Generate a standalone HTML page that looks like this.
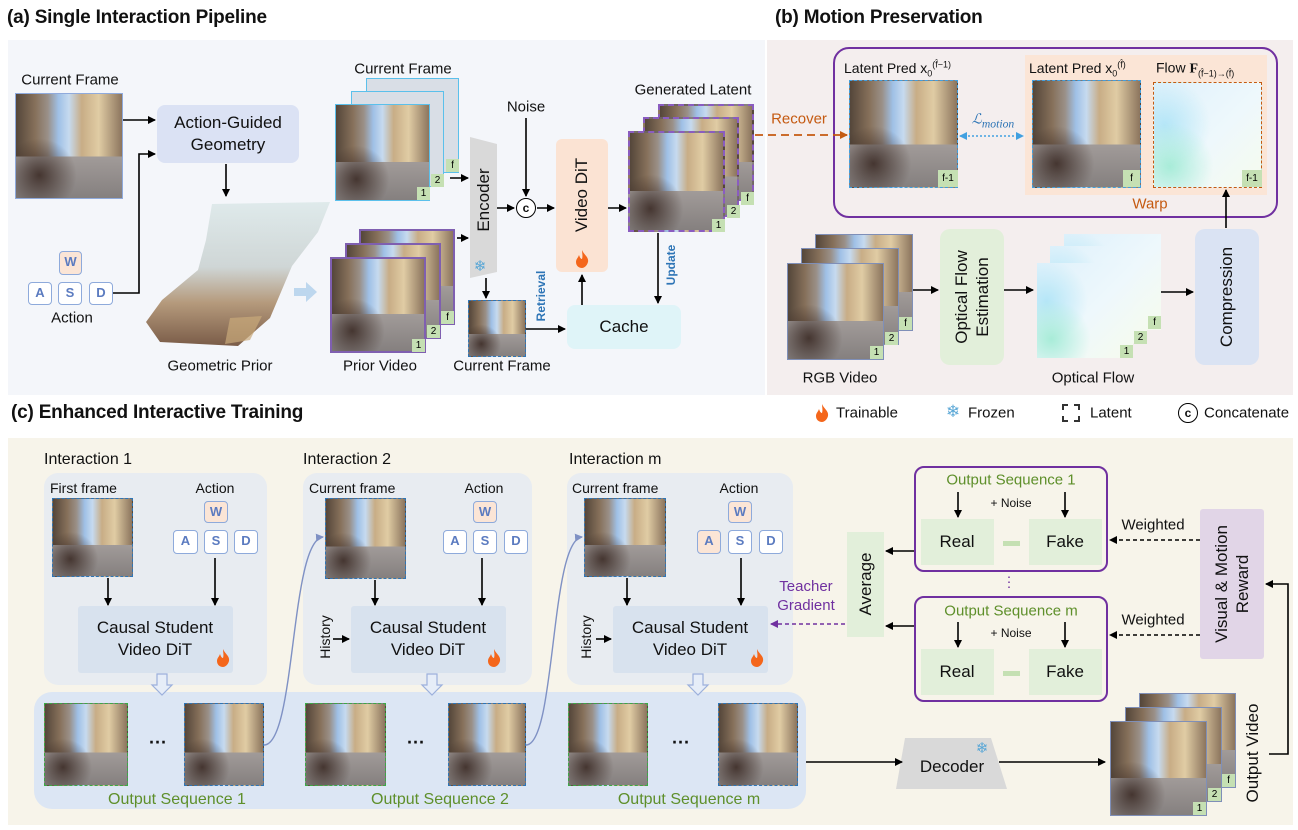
<!DOCTYPE html>
<html><head><meta charset="utf-8"><style>
body{margin:0;width:1298px;height:830px;position:relative;background:#fff;font-family:"Liberation Sans",sans-serif;overflow:hidden;color:#111}
.a{position:absolute;box-sizing:border-box}
.c{position:absolute;transform:translate(-50%,-50%);white-space:nowrap;text-align:center}
.l{position:absolute;transform:translateY(-50%);white-space:nowrap}
.r{position:absolute;transform:translate(-50%,-50%) rotate(-90deg);white-space:nowrap;text-align:center}
.ph{position:absolute;box-sizing:border-box;background:radial-gradient(ellipse at 22% 78%,rgba(55,38,32,.85) 0,rgba(55,38,32,0) 32%),linear-gradient(to bottom,rgba(0,0,0,0) 60%,#a19b99 60%,#85807f 100%),linear-gradient(to right,#54463a 0%,#86705a 18%,#9a9088 30%,#9fc0e6 40%,#c6daef 50%,#c8ad86 62%,#e0cca4 78%,#8c755e 100%)}
.fl{position:absolute;box-sizing:border-box;background:radial-gradient(circle at 15% 80%,#a8ecd8 0,rgba(255,255,255,0) 35%),radial-gradient(circle at 10% 40%,#b5e6f7 0,rgba(255,255,255,0) 40%),linear-gradient(135deg,#dff1fb,#eef8fc 55%,#f6fbee)}
.tag{position:absolute;width:13px;height:13px;background:#c5e0b3;font-size:10px;text-align:center;line-height:13px;color:#000}
.key{position:absolute;box-sizing:border-box;border:1.5px solid #8eaadb;border-radius:4px;background:#fff;color:#5b7bc0;font-weight:bold;font-size:13px;text-align:center;line-height:20px}
.t15{font-size:15px}.t17{font-size:17px}
.g{color:#5e8f2a}
.csd{background:#d8e2ee;border-radius:3px}
</style></head><body>
<div class="a" style="left:8px;top:40px;width:757px;height:355px;background:#f4f6fa"></div>
<div class="a" style="left:767px;top:40px;width:526px;height:355px;background:#f4eeee"></div>
<div class="a" style="left:8px;top:438px;width:1285px;height:387px;background:#f7f4ea"></div>

<div class="l" style="left:7px;top:18px;font-size:19px;font-weight:bold;letter-spacing:-0.2px">(a) Single Interaction Pipeline</div>
<div class="l" style="left:775px;top:18px;font-size:19px;font-weight:bold;letter-spacing:-0.2px">(b) Motion Preservation</div>
<div class="l" style="left:11px;top:413px;font-size:19px;font-weight:bold;letter-spacing:-0.2px">(c) Enhanced Interactive Training</div>

<svg class="a" style="left:815px;top:404px" width="14" height="18"><path d="M7 0C9 5 14 7 13 12C12 16 9 18 7 18C4 18 1 16 1 12C1 9 3 8 4 5C5 8 6 9 7 9C8 6 7 3 7 0Z" fill="#f4661b"/></svg>
<div class="l t15" style="left:836px;top:413px">Trainable</div>
<div class="c" style="left:953px;top:412px;font-size:17px;color:#5aa7d6">❄</div>
<div class="l t15" style="left:968px;top:413px">Frozen</div>
<div class="a" style="left:1062px;top:404px;width:18px;height:18px;border:2px dashed #333"></div>
<div class="l t15" style="left:1090px;top:413px">Latent</div>
<div class="a" style="left:1178px;top:403px;width:20px;height:20px;border:1.5px solid #000;border-radius:50%;font-size:12px;text-align:center;line-height:18px;font-weight:bold">c</div>
<div class="l t15" style="left:1204px;top:413px">Concatenate</div>

<!-- (a) -->
<div class="c t15" style="left:70px;top:80px">Current Frame</div>
<div class="ph" style="left:15px;top:93px;width:108px;height:106px;border:1.5px solid #8faadc"></div>
<div class="a" style="left:157px;top:105px;width:142px;height:58px;background:#dbe2f4;border-radius:8px"></div>
<div class="c t17" style="left:228px;top:134px;line-height:22px">Action-Guided<br>Geometry</div>
<div class="key" style="left:59px;top:251px;width:23px;height:24px;background:#fbe5d6">W</div>
<div class="key" style="left:28px;top:282px;width:24px;height:23px">A</div>
<div class="key" style="left:58px;top:282px;width:24px;height:23px">S</div>
<div class="key" style="left:89px;top:282px;width:24px;height:23px">D</div>
<div class="c t15" style="left:72px;top:318px">Action</div>
<svg class="a" style="left:0;top:0" width="340" height="360"><defs><linearGradient id="pc" x1="0" y1="0" x2="0" y2="1"><stop offset="0" stop-color="#dfeaeb"/><stop offset="0.45" stop-color="#cfd6d6"/><stop offset="0.7" stop-color="#b59a7c"/><stop offset="1" stop-color="#7a5c48"/></linearGradient></defs>
<path d="M212,204 L330,202 L318,232 L292,266 L270,318 L238,346 L160,342 L146,322 L162,300 L198,270 L206,240 Z" fill="url(#pc)"/>
<path d="M230,318 L262,316 L250,340 L225,344 Z" fill="#c9a97a" opacity="0.7"/></svg>
<div class="c t15" style="left:220px;top:366px">Geometric Prior</div>
<svg class="a" style="left:294px;top:282px" width="24" height="21"><polygon points="0,6 12,6 12,0 23,10 12,20 12,14 0,14" fill="#bdd7ee"/></svg>

<div class="a" style="left:366px;top:78px;width:93px;height:95px;background:#d9dee6;border:1.5px solid #5bc0eb"></div>
<div class="a" style="left:351px;top:91px;width:93px;height:96px;background:#d9dee6;border:1.5px solid #5bc0eb"></div>
<div class="ph" style="left:335px;top:104px;width:95px;height:97px;border:1.5px solid #5bc0eb"></div>
<div class="tag" style="left:417px;top:187px">1</div><div class="tag" style="left:431px;top:174px">2</div><div class="tag" style="left:446px;top:159px">f</div>
<div class="c t15" style="left:403px;top:69px">Current Frame</div>

<div class="ph" style="left:359px;top:229px;width:96px;height:96px;border:2px solid #7f5fb0"></div>
<div class="ph" style="left:345px;top:243px;width:96px;height:96px;border:2px solid #7f5fb0"></div>
<div class="ph" style="left:330px;top:257px;width:96px;height:96px;border:2px solid #7f5fb0"></div>
<div class="tag" style="left:412px;top:339px">1</div><div class="tag" style="left:427px;top:325px">2</div><div class="tag" style="left:441px;top:311px">f</div>
<div class="c t15" style="left:380px;top:366px">Prior Video</div>

<svg class="a" style="left:470px;top:137px" width="28" height="142"><polygon points="0,0 27,7 27,135 0,141" fill="#d9d9d9"/></svg>
<div class="r t17" style="left:484px;top:200px">Encoder</div>
<div class="c" style="left:480px;top:266px;font-size:15px;color:#5aa7d6">❄</div>
<div class="a" style="left:516px;top:198px;width:20px;height:20px;border:1.5px solid #000;border-radius:50%;font-size:12px;text-align:center;line-height:18px;font-weight:bold;background:#fff">c</div>
<div class="c t15" style="left:526px;top:107px">Noise</div>
<div class="a" style="left:556px;top:139px;width:52px;height:133px;background:#fbe3d3;border-radius:6px"></div>
<div class="r t17" style="left:582px;top:195px">Video DiT</div>
<svg class="a" style="left:575px;top:250px" width="14" height="18"><path d="M7 0C9 5 14 7 13 12C12 16 9 18 7 18C4 18 1 16 1 12C1 9 3 8 4 5C5 8 6 9 7 9C8 6 7 3 7 0Z" fill="#f4661b"/></svg>

<div class="ph" style="left:658px;top:104px;width:96px;height:97px;border:2px dashed #8a5cc0"></div>
<div class="ph" style="left:643px;top:117px;width:96px;height:100px;border:2px dashed #8a5cc0"></div>
<div class="ph" style="left:628px;top:131px;width:97px;height:101px;border:2px dashed #8a5cc0"></div>
<div class="tag" style="left:712px;top:219px">1</div><div class="tag" style="left:727px;top:205px">2</div><div class="tag" style="left:741px;top:192px">f</div>
<div class="c t15" style="left:693px;top:90px">Generated Latent</div>

<div class="ph" style="left:468px;top:300px;width:58px;height:57px;border:1.5px dashed #2e75b6"></div>
<div class="c t15" style="left:502px;top:366px">Current Frame</div>
<div class="r" style="left:541px;top:296px;font-size:12px;font-weight:bold;color:#2e75b6">Retrieval</div>
<div class="a" style="left:567px;top:305px;width:114px;height:44px;background:#dff4f8;border-radius:8px"></div>
<div class="c t17" style="left:624px;top:327px">Cache</div>
<div class="r" style="left:671px;top:265px;font-size:12px;font-weight:bold;color:#2e75b6">Update</div>

<!-- (b) -->
<div class="c t15" style="left:799px;top:119px;color:#c55a11">Recover</div>
<div class="a" style="left:833px;top:47px;width:445px;height:171px;border:2px solid #7030a0;border-radius:16px"></div>
<div class="a" style="left:1025px;top:55px;width:242px;height:140px;background:#fbe5d6"></div>
<div class="l" style="left:844px;top:69px;font-size:14px">Latent Pred x<sub style="font-size:9px">0</sub><sup style="font-size:9px">(f̂−1)</sup></div>
<div class="ph" style="left:849px;top:80px;width:109px;height:108px;border:1.5px dashed #41a0e0"></div>
<div class="tag" style="left:938px;top:170px;width:20px;height:17px;line-height:17px">f-1</div>
<div class="c" style="left:993px;top:121px;font-size:14px;font-style:italic;color:#2e75b6;font-family:'Liberation Serif',serif">ℒ<sub>motion</sub></div>
<div class="l" style="left:1029px;top:69px;font-size:14px">Latent Pred x<sub style="font-size:9px">0</sub><sup style="font-size:9px">(f̂)</sup></div>
<div class="ph" style="left:1032px;top:80px;width:109px;height:108px;border:1.5px dashed #41a0e0"></div>
<div class="tag" style="left:1123px;top:170px;width:17px;height:17px;line-height:17px">f</div>
<div class="l" style="left:1156px;top:69px;font-size:14px">Flow <b style="font-family:'Liberation Serif',serif">F</b><sub style="font-size:9px">(f̂−1)→(f̂)</sub></div>
<div class="fl" style="left:1153px;top:82px;width:109px;height:106px;border:1.5px dashed #c55a11"></div>
<div class="tag" style="left:1242px;top:170px;width:20px;height:17px;line-height:17px">f-1</div>
<div class="c t15" style="left:1150px;top:204px;color:#c55a11">Warp</div>

<div class="ph" style="left:815px;top:234px;width:98px;height:97px;border:1.5px solid #7f8fb8"></div>
<div class="ph" style="left:801px;top:248px;width:98px;height:97px;border:1.5px solid #7f8fb8"></div>
<div class="ph" style="left:787px;top:263px;width:97px;height:97px;border:1.5px solid #7f8fb8"></div>
<div class="tag" style="left:870px;top:346px">1</div><div class="tag" style="left:885px;top:332px">2</div><div class="tag" style="left:899px;top:317px">f</div>
<div class="c t15" style="left:840px;top:378px">RGB Video</div>
<div class="a" style="left:940px;top:229px;width:64px;height:136px;background:#e2efda;border-radius:10px"></div>
<div class="r t17" style="left:972px;top:297px;line-height:21px">Optical Flow<br>Estimation</div>
<div class="fl" style="left:1064px;top:234px;width:97px;height:96px"></div>
<div class="fl" style="left:1050px;top:246px;width:97px;height:97px"></div>
<div class="fl" style="left:1037px;top:263px;width:96px;height:95px"></div>
<div class="tag" style="left:1120px;top:345px">1</div><div class="tag" style="left:1134px;top:331px">2</div><div class="tag" style="left:1148px;top:316px">f</div>
<div class="c t15" style="left:1093px;top:378px">Optical Flow</div>
<div class="a" style="left:1195px;top:229px;width:64px;height:136px;background:#dae3f3;border-radius:10px"></div>
<div class="r t17" style="left:1227px;top:297px">Compression</div>

<!-- (c) -->
<div class="a" style="left:44px;top:473px;width:223px;height:212px;background:#e8ecf1;border-radius:14px"></div>
<div class="a" style="left:303px;top:473px;width:229px;height:212px;background:#e8ecf1;border-radius:14px"></div>
<div class="a" style="left:567px;top:473px;width:226px;height:212px;background:#e8ecf1;border-radius:14px"></div>
<div class="a" style="left:34px;top:692px;width:772px;height:117px;background:#dce6f4;border-radius:18px"></div>
<div class="l" style="left:44px;top:460px;font-size:16px">Interaction 1</div>
<div class="l" style="left:303px;top:460px;font-size:16px">Interaction 2</div>
<div class="l" style="left:569px;top:460px;font-size:16px">Interaction m</div>

<div class="l" style="left:50px;top:488px;font-size:14px">First frame</div>
<div class="ph" style="left:52px;top:498px;width:81px;height:79px;border:1.5px dashed #2e75b6"></div>
<div class="c" style="left:215px;top:488px;font-size:14px">Action</div>
<div class="key" style="left:204px;top:501px;width:24px;height:22px;background:#fbe5d6">W</div>
<div class="key" style="left:173px;top:530px;width:25px;height:24px">A</div>
<div class="key" style="left:204px;top:530px;width:24px;height:24px">S</div>
<div class="key" style="left:234px;top:530px;width:24px;height:24px">D</div>
<div class="a csd" style="left:78px;top:606px;width:155px;height:67px"></div>
<div class="c t17" style="left:155px;top:639px;line-height:22px">Causal Student<br>Video DiT</div>

<div class="l" style="left:309px;top:488px;font-size:14px">Current frame</div>
<div class="ph" style="left:325px;top:498px;width:81px;height:81px;border:1.5px dashed #2e75b6"></div>
<div class="c" style="left:484px;top:488px;font-size:14px">Action</div>
<div class="key" style="left:473px;top:501px;width:24px;height:22px;background:#fbe5d6">W</div>
<div class="key" style="left:443px;top:530px;width:24px;height:24px">A</div>
<div class="key" style="left:473px;top:530px;width:24px;height:24px">S</div>
<div class="key" style="left:504px;top:530px;width:24px;height:24px">D</div>
<div class="r" style="left:325px;top:637px;font-size:14px">History</div>
<div class="a csd" style="left:351px;top:606px;width:155px;height:67px"></div>
<div class="c t17" style="left:428px;top:639px;line-height:22px">Causal Student<br>Video DiT</div>

<div class="l" style="left:572px;top:488px;font-size:14px">Current frame</div>
<div class="ph" style="left:584px;top:498px;width:82px;height:79px;border:1.5px dashed #2e75b6"></div>
<div class="c" style="left:739px;top:488px;font-size:14px">Action</div>
<div class="key" style="left:728px;top:501px;width:24px;height:22px;background:#fbe5d6">W</div>
<div class="key" style="left:697px;top:530px;width:24px;height:24px;background:#fbe5d6">A</div>
<div class="key" style="left:728px;top:530px;width:24px;height:24px">S</div>
<div class="key" style="left:759px;top:530px;width:24px;height:24px">D</div>
<div class="r" style="left:586px;top:637px;font-size:14px">History</div>
<div class="a csd" style="left:613px;top:606px;width:155px;height:67px"></div>
<div class="c t17" style="left:690px;top:639px;line-height:22px">Causal Student<br>Video DiT</div>

<svg class="a" style="left:216px;top:649px" width="14" height="18"><path d="M7 0C9 5 14 7 13 12C12 16 9 18 7 18C4 18 1 16 1 12C1 9 3 8 4 5C5 8 6 9 7 9C8 6 7 3 7 0Z" fill="#f4661b"/></svg>
<svg class="a" style="left:487px;top:649px" width="14" height="18"><path d="M7 0C9 5 14 7 13 12C12 16 9 18 7 18C4 18 1 16 1 12C1 9 3 8 4 5C5 8 6 9 7 9C8 6 7 3 7 0Z" fill="#f4661b"/></svg>
<svg class="a" style="left:750px;top:649px" width="14" height="18"><path d="M7 0C9 5 14 7 13 12C12 16 9 18 7 18C4 18 1 16 1 12C1 9 3 8 4 5C5 8 6 9 7 9C8 6 7 3 7 0Z" fill="#f4661b"/></svg>

<div class="ph" style="left:44px;top:703px;width:84px;height:83px;border:1.5px dashed #3aaa45"></div>
<div class="c" style="left:158px;top:743px;font-size:18px;font-weight:bold">···</div>
<div class="ph" style="left:184px;top:703px;width:80px;height:83px;border:1.5px dashed #2e75b6"></div>
<div class="ph" style="left:305px;top:703px;width:81px;height:83px;border:1.5px dashed #3aaa45"></div>
<div class="c" style="left:416px;top:743px;font-size:18px;font-weight:bold">···</div>
<div class="ph" style="left:448px;top:703px;width:78px;height:83px;border:1.5px dashed #2e75b6"></div>
<div class="ph" style="left:568px;top:703px;width:80px;height:83px;border:1.5px dashed #3aaa45"></div>
<div class="c" style="left:681px;top:743px;font-size:18px;font-weight:bold">···</div>
<div class="ph" style="left:718px;top:703px;width:80px;height:83px;border:1.5px dashed #2e75b6"></div>
<div class="c g" style="left:177px;top:800px;font-size:16px">Output Sequence 1</div>
<div class="c g" style="left:440px;top:800px;font-size:16px">Output Sequence 2</div>
<div class="c g" style="left:689px;top:800px;font-size:16px">Output Sequence m</div>

<div class="c" style="left:806px;top:596px;font-size:15px;color:#7030a0;line-height:19px">Teacher<br>Gradient</div>
<div class="a" style="left:847px;top:532px;width:37px;height:105px;background:#e2efda"></div>
<div class="r t17" style="left:866px;top:584px">Average</div>

<div class="a" style="left:914px;top:466px;width:194px;height:106px;border:2px solid #7030a0;border-radius:10px"></div>
<div class="c g t15" style="left:1011px;top:480px">Output Sequence 1</div>
<div class="c" style="left:1011px;top:503px;font-size:12px">+ Noise</div>
<div class="a" style="left:921px;top:519px;width:73px;height:46px;background:#e2efda"></div>
<div class="a" style="left:1029px;top:519px;width:73px;height:46px;background:#e2efda"></div>
<div class="c t17" style="left:957px;top:542px">Real</div><div class="c t17" style="left:1065px;top:542px">Fake</div>
<div class="a" style="left:1003px;top:541px;width:17px;height:5px;background:#c5e0b3"></div>
<div class="c" style="left:1009px;top:582px;font-size:14px;color:#7030a0">⋮</div>
<div class="a" style="left:914px;top:596px;width:194px;height:106px;border:2px solid #7030a0;border-radius:10px"></div>
<div class="c g t15" style="left:1011px;top:611px">Output Sequence m</div>
<div class="c" style="left:1011px;top:633px;font-size:12px">+ Noise</div>
<div class="a" style="left:921px;top:649px;width:73px;height:46px;background:#e2efda"></div>
<div class="a" style="left:1029px;top:649px;width:73px;height:46px;background:#e2efda"></div>
<div class="c t17" style="left:957px;top:672px">Real</div><div class="c t17" style="left:1065px;top:672px">Fake</div>
<div class="a" style="left:1003px;top:671px;width:17px;height:5px;background:#c5e0b3"></div>

<div class="a" style="left:1200px;top:509px;width:64px;height:150px;background:#e1d5e7;border-radius:3px"></div>
<div class="r t17" style="left:1232px;top:584px;line-height:21px">Visual &amp; Motion<br>Reward</div>
<div class="c t15" style="left:1153px;top:525px">Weighted</div>
<div class="c t15" style="left:1153px;top:620px">Weighted</div>

<svg class="a" style="left:896px;top:738px" width="112" height="52"><polygon points="9,0 95,0 111,51 0,51" fill="#d9d9d9"/></svg>
<div class="c t17" style="left:952px;top:767px">Decoder</div>
<div class="c" style="left:982px;top:748px;font-size:15px;color:#5aa7d6">❄</div>

<div class="ph" style="left:1139px;top:693px;width:97px;height:95px;border:1.5px solid #7f8fb8"></div>
<div class="ph" style="left:1125px;top:707px;width:97px;height:95px;border:1.5px solid #7f8fb8"></div>
<div class="ph" style="left:1110px;top:721px;width:97px;height:95px;border:1.5px solid #7f8fb8"></div>
<div class="tag" style="left:1193px;top:802px">1</div><div class="tag" style="left:1208px;top:788px">2</div><div class="tag" style="left:1222px;top:774px">f</div>
<div class="r t17" style="left:1253px;top:753px">Output Video</div>

<svg class="a" style="left:0;top:0" width="1298" height="830">
<defs>
<marker id="k" markerWidth="8" markerHeight="8" refX="7" refY="4" orient="auto" markerUnits="userSpaceOnUse"><path d="M0,0L8,4L0,8Z" fill="#000"/></marker>
<marker id="o" markerWidth="8" markerHeight="8" refX="7" refY="4" orient="auto" markerUnits="userSpaceOnUse"><path d="M0,0L8,4L0,8Z" fill="#c55a11"/></marker>
<marker id="p" markerWidth="8" markerHeight="8" refX="7" refY="4" orient="auto" markerUnits="userSpaceOnUse"><path d="M0,0L8,4L0,8Z" fill="#7030a0"/></marker>
<marker id="b" markerWidth="8" markerHeight="8" refX="7" refY="4" orient="auto" markerUnits="userSpaceOnUse"><path d="M0,0L8,4L0,8Z" fill="#41a0e0"/></marker>
<marker id="bs" markerWidth="8" markerHeight="8" refX="1" refY="4" orient="auto" markerUnits="userSpaceOnUse"><path d="M8,0L0,4L8,8Z" fill="#41a0e0"/></marker>
<marker id="v" markerWidth="8" markerHeight="8" refX="7" refY="4" orient="auto" markerUnits="userSpaceOnUse"><path d="M0,0L8,4L0,8Z" fill="#7f91c4"/></marker>
</defs>
<g fill="none" stroke="#000" stroke-width="1.6" marker-end="url(#k)">
<path d="M123,120H155"/><path d="M113,293H139V154H155"/><path d="M226,164V196"/>
<path d="M450,178H468"/><path d="M457,238H468"/><path d="M497,208H514"/><path d="M526,118V196"/>
<path d="M537,208H554"/><path d="M608,208H626"/><path d="M486,278V298"/><path d="M526,329H565"/>
<path d="M582,305V275"/><path d="M658,233V303"/>
<path d="M913,290H938"/><path d="M1004,290H1033"/><path d="M1161,292H1193"/><path d="M1226,228V190"/>
<path d="M108,578V605"/><path d="M215,558V605"/><path d="M375,580V605"/><path d="M482,558V605"/><path d="M333,639H349"/>
<path d="M627,578V605"/><path d="M741,558V605"/><path d="M596,639H611"/>
<path d="M914,551H886"/><path d="M914,626H886"/>
<path d="M958,492V517"/><path d="M1065,492V517"/><path d="M958,622V647"/><path d="M1065,622V647"/>
<path d="M806,762H902"/><path d="M999,762H1105"/><path d="M1269,754H1288V584H1266"/>
</g>
<g fill="none" stroke="#000" stroke-width="1.5" stroke-dasharray="4,3" marker-end="url(#k)">
<path d="M1200,540H1110"/><path d="M1200,635H1110"/></g>
<path d="M845,624H771" fill="none" stroke="#7030a0" stroke-width="1.6" stroke-dasharray="4,3" marker-end="url(#p)"/>
<path d="M755,135H847" fill="none" stroke="#c55a11" stroke-width="1.8" stroke-dasharray="8,5" marker-end="url(#o)"/>
<path d="M960,136H1023" fill="none" stroke="#41a0e0" stroke-width="1.6" stroke-dasharray="2,2" marker-end="url(#b)" marker-start="url(#bs)"/>
<path d="M264,745C296,745 290,540 323,537" fill="none" stroke="#7f91c4" stroke-width="1.4" marker-end="url(#v)"/>
<path d="M526,745C556,745 550,540 582,537" fill="none" stroke="#7f91c4" stroke-width="1.4" marker-end="url(#v)"/>
<path d="M549,605V630" fill="none" stroke="#f7f4ea" stroke-width="3" stroke-dasharray="2,4"/>
<g fill="#e6edf8" stroke="#9cb0dc" stroke-width="1.2">
<polygon points="157,674 167,674 167,685 172,685 162,695 152,685 157,685"/>
<polygon points="427,674 437,674 437,685 442,685 432,695 422,685 427,685"/>
<polygon points="693,674 703,674 703,685 708,685 698,695 688,685 693,685"/>
</g>
</svg>
</body></html>
